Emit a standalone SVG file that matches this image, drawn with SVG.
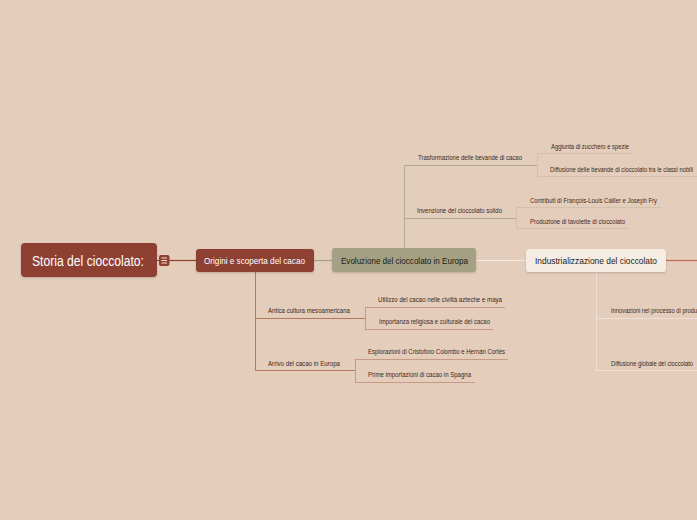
<svg xmlns="http://www.w3.org/2000/svg" width="697" height="520" viewBox="0 0 697 520">
<defs>
<filter id="sh" x="-10%" y="-20%" width="120%" height="150%">
<feDropShadow dx="0" dy="1" stdDeviation="1" flood-color="#000" flood-opacity="0.18"/>
</filter>
</defs>
<style>
text{font-family:"Liberation Sans",Arial,sans-serif}
.t{font-size:7.5px;fill:#3a2a22}
.n{font-size:9px}
.r{font-size:14px;fill:#fff}
.lo{fill:none;stroke:#b5775f;stroke-width:1}
.lo2{fill:none;stroke:#c79a86;stroke-width:1}
.le{fill:none;stroke:#b3ab8f;stroke-width:1}
.le2{fill:none;stroke:#d2c1ac;stroke-width:1}
.li{fill:none;stroke:#eee0d5;stroke-width:1}
</style>
<rect width="697" height="520" fill="#e5cdbc"/>
<g id="connectors">
<line x1="169" y1="260.5" x2="196" y2="260.5" stroke="#8e4131" stroke-width="1.2"/>
<line x1="157" y1="260.5" x2="159" y2="260.5" stroke="#8e4131" stroke-width="1.2"/>
<line x1="314" y1="260.5" x2="332" y2="260.5" stroke="#a3a083" stroke-width="1.2"/>
<line x1="476" y1="260.5" x2="526" y2="260.5" stroke="#f3e8df" stroke-width="1.2"/>
<line x1="666" y1="260.5" x2="697" y2="260.5" stroke="#c0694a" stroke-width="1.2"/>
<path class="lo" d="M255.5 272 V370.5 M255.5 318.5 H365 M255.5 370.5 H355"/>
<path class="lo2" d="M365.5 307 V329 M365 307.5 H505 M365 329.5 H493"/>
<path class="lo2" d="M355.5 359 V382 M355 359.5 H508 M355 382.5 H475"/>
<path class="le" d="M404.5 248 V165 M404.5 165.5 H537 M404.5 218.5 H516"/>
<path class="le2" d="M537.5 153 V176 M537 153.5 H633 M537 176.5 H697"/>
<path class="le2" d="M516.5 207 V228 M516 207.5 H661 M516 228.5 H629"/>
<path class="li" d="M596.5 272 V370.5 M596.5 318.5 H697 M596.5 370.5 H697"/>
</g>
<g id="root">
<rect x="21" y="243" width="136" height="34" rx="4" fill="#8e4131" filter="url(#sh)"/>
<text class="r" x="32" y="265.5" textLength="112" lengthAdjust="spacingAndGlyphs">Storia del cioccolato:</text>
</g>
<g id="icon">
<rect x="159" y="255" width="10.5" height="11" rx="2" fill="#8e4131"/>
<path d="M161.5 258 H167 M161.5 260.5 H167 M161.5 263 H167" stroke="#f1ddd2" stroke-width="1"/>
</g>
<g id="origini">
<rect x="196" y="249" width="118" height="23" rx="3" fill="#8e4131" filter="url(#sh)"/>
<text class="n" x="204" y="263.5" fill="#fff" textLength="101" lengthAdjust="spacingAndGlyphs">Origini e scoperta del cacao</text>
</g>
<g id="evoluzione">
<rect x="332" y="248" width="144" height="24" rx="3" fill="#a3a083" filter="url(#sh)"/>
<text class="n" x="341" y="263.5" fill="#1e1a14" textLength="127" lengthAdjust="spacingAndGlyphs">Evoluzione del cioccolato in Europa</text>
</g>
<g id="industrializzazione">
<rect x="526" y="249" width="140" height="23" rx="3" fill="#f5ece4" filter="url(#sh)"/>
<text class="n" x="535" y="263.5" fill="#1e1a14" textLength="122" lengthAdjust="spacingAndGlyphs">Industrializzazione del cioccolato</text>
</g>
<g id="antica"><text class="t" x="268" y="313" textLength="82" lengthAdjust="spacingAndGlyphs">Antica cultura mesoamericana</text></g>
<g id="utilizzo"><text class="t" x="378" y="302" textLength="124" lengthAdjust="spacingAndGlyphs">Utilizzo del cacao nelle civiltà azteche e maya</text></g>
<g id="importanza"><text class="t" x="379" y="324" textLength="111" lengthAdjust="spacingAndGlyphs">Importanza religiosa e culturale del cacao</text></g>
<g id="arrivo"><text class="t" x="268" y="366" textLength="72" lengthAdjust="spacingAndGlyphs">Arrivo del cacao in Europa</text></g>
<g id="esplorazioni"><text class="t" x="368" y="354" textLength="137" lengthAdjust="spacingAndGlyphs">Esplorazioni di Cristoforo Colombo e Hernán Cortés</text></g>
<g id="prime"><text class="t" x="368" y="377" textLength="103" lengthAdjust="spacingAndGlyphs">Prime importazioni di cacao in Spagna</text></g>
<g id="trasformazione"><text class="t" x="418" y="159.5" textLength="104" lengthAdjust="spacingAndGlyphs">Trasformazione delle bevande di cacao</text></g>
<g id="aggiunta"><text class="t" x="551" y="149" textLength="78" lengthAdjust="spacingAndGlyphs">Aggiunta di zucchero e spezie</text></g>
<g id="diffusione-nobili"><text class="t" x="550" y="172" textLength="143" lengthAdjust="spacingAndGlyphs">Diffusione delle bevande di cioccolato tra le classi nobili</text></g>
<g id="invenzione"><text class="t" x="417" y="212.5" textLength="85" lengthAdjust="spacingAndGlyphs">Invenzione del cioccolato solido</text></g>
<g id="contributi"><text class="t" x="530" y="202.5" textLength="127" lengthAdjust="spacingAndGlyphs">Contributi di François-Louis Cailler e Joseph Fry</text></g>
<g id="produzione"><text class="t" x="530" y="224" textLength="95" lengthAdjust="spacingAndGlyphs">Produzione di tavolette di cioccolato</text></g>
<g id="innovazioni"><text class="t" x="611" y="313" textLength="100" lengthAdjust="spacingAndGlyphs">Innovazioni nel processo di produzione</text></g>
<g id="diffusione-globale"><text class="t" x="611" y="365.5" textLength="82" lengthAdjust="spacingAndGlyphs">Diffusione globale del cioccolato</text></g>
</svg>
